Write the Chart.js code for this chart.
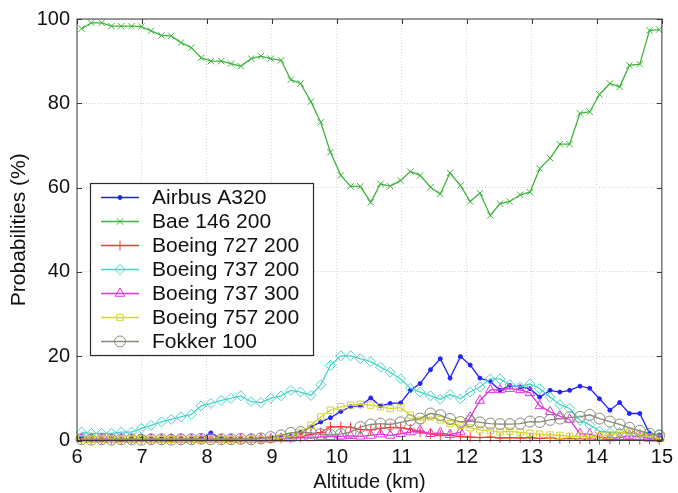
<!DOCTYPE html>
<html>
<head>
<meta charset="utf-8">
<script src="https://cdn.jsdelivr.net/npm/chart.js@4/dist/chart.umd.min.js"></script>
<style>
  html, body { margin: 0; padding: 0; background: #fff; }
  canvas { display: block; }
</style>
</head>
<body>
<canvas id="chart" width="678" height="493"></canvas>
<script>
"use strict";

/* ── Data ──────────────────────────────────────────────── */
const ALTITUDE = [
  6.07, 6.22, 6.38, 6.53, 6.68, 6.84, 6.99, 7.14, 7.30, 7.45,
  7.60, 7.76, 7.91, 8.06, 8.22, 8.37, 8.52, 8.68, 8.83, 8.98,
  9.14, 9.29, 9.44, 9.60, 9.75, 9.90, 10.06, 10.21, 10.36, 10.52,
  10.67, 10.82, 10.98, 11.13, 11.28, 11.44, 11.59, 11.74, 11.90, 12.05,
  12.20, 12.36, 12.51, 12.66, 12.82, 12.97, 13.12, 13.28, 13.43, 13.58,
  13.74, 13.89, 14.04, 14.20, 14.35, 14.50, 14.66, 14.81, 14.96,
];

const AIRBUS_A320 = [
  0.6, 0.3, 0.3, 0.3, 0.2, 0.3, 0.3, 0.3, 0.3, 0.3,
  0.3, 0.3, 0.5, 1.8, 0.4, 0.3, 0.3, 0.3, 0.3, 0.4,
  0.6, 1.0, 1.9, 3.2, 4.4, 5.4, 6.9, 8.0, 8.2, 10.1,
  8.2, 8.8, 8.9, 11.9, 13.5, 16.8, 19.4, 14.8, 19.9, 17.9,
  14.8, 14.0, 11.9, 13.1, 12.7, 12.3, 10.3, 11.9, 11.5, 11.9,
  12.9, 12.4, 9.9, 7.2, 9.0, 6.4, 6.4, 1.7, 1.3,
];

const BAE_146_200 = [
  97.7, 99.1, 99.1, 98.3, 98.3, 98.3, 98.2, 97.2, 96.1, 96.0,
  94.4, 93.2, 90.8, 90.0, 90.0, 89.4, 88.8, 90.6, 91.2, 90.6,
  90.2, 85.6, 84.7, 80.4, 75.5, 68.4, 62.9, 60.3, 60.3, 56.5,
  60.9, 60.3, 61.7, 63.8, 62.9, 60.1, 58.5, 63.5, 60.5, 56.7,
  58.7, 53.4, 56.2, 56.7, 58.3, 58.9, 64.5, 67.0, 70.3, 70.3,
  77.6, 78.0, 82.1, 84.7, 83.9, 89.0, 89.3, 97.3, 97.5,
];

const BOEING_727_200 = [
  0.4, 0.3, 0.3, 0.3, 0.3, 0.4, 0.3, 0.3, 0.3, 0.3,
  0.4, 0.3, 0.3, 0.5, 0.3, 0.3, 0.3, 0.4, 0.3, 0.4,
  0.5, 0.6, 0.8, 1.5, 1.9, 3.2, 3.3, 3.1, 2.6, 2.5,
  2.9, 3.1, 3.0, 2.7, 2.0, 1.6, 1.3, 1.2, 0.9, 0.8,
  0.7, 0.8, 0.6, 0.7, 0.6, 0.7, 0.5, 0.6, 0.4, 0.5,
  0.3, 0.3, 0.2, 0.3, 0.2, 0.2, 0.2, 0.2, 0.2,
];

const BOEING_737_200 = [
  2.0, 1.7, 1.7, 1.7, 2.0, 2.0, 2.9, 3.6, 4.4, 5.0,
  5.6, 6.2, 8.2, 8.8, 9.5, 10.0, 10.6, 9.2, 9.0, 10.0,
  10.6, 11.9, 11.5, 10.7, 13.2, 17.8, 20.1, 20.1, 19.4, 18.7,
  17.4, 16.2, 14.6, 12.4, 11.5, 10.6, 9.8, 10.9, 9.9, 11.5,
  12.7, 14.6, 14.6, 13.2, 12.7, 13.4, 12.3, 10.3, 8.5, 7.6,
  4.8, 3.7, 2.2, 1.9, 1.9, 1.9, 1.5, 1.3, 1.5,
];

const BOEING_737_300 = [
  0.5, 0.4, 0.4, 0.3, 0.4, 0.3, 0.4, 0.3, 0.3, 0.4,
  0.3, 0.3, 0.4, 0.3, 0.3, 0.4, 0.3, 0.3, 0.4, 0.3,
  0.5, 0.5, 0.7, 0.6, 0.8, 0.9, 1.0, 1.1, 1.0, 1.2,
  1.5, 1.2, 1.6, 2.0, 2.4, 1.6, 1.8, 1.4, 2.0, 5.5,
  9.5, 12.0, 12.0, 12.3, 12.0, 11.3, 8.2, 6.8, 5.8, 5.0,
  1.6, 1.5, 0.8, 0.6, 0.7, 1.2, 0.8, 0.5, 0.5,
];

const BOEING_757_200 = [
  0.4, 0.3, 0.3, 0.4, 0.3, 0.3, 0.4, 0.3, 0.3, 0.3,
  0.4, 0.3, 0.3, 0.4, 0.3, 0.3, 0.3, 0.4, 0.3, 0.4,
  0.6, 1.0, 1.9, 3.6, 5.6, 7.2, 8.0, 8.4, 8.6, 8.4,
  8.0, 7.6, 7.8, 6.0, 4.8, 5.6, 4.9, 4.0, 3.6, 3.0,
  2.5, 2.3, 2.0, 2.2, 1.9, 1.7, 1.5, 1.3, 1.2, 1.0,
  1.0, 0.9, 1.1, 1.3, 1.8, 2.0, 1.5, 0.8, 0.4,
];

const FOKKER_100 = [
  0.3, 0.2, 0.3, 0.2, 0.3, 0.3, 0.2, 0.3, 0.3, 0.2,
  0.3, 0.3, 0.4, 0.3, 0.3, 0.3, 0.4, 0.3, 0.5, 0.8,
  1.2, 1.8, 2.0, 1.8, 1.5, 1.3, 1.5, 2.0, 3.2, 3.8,
  4.0, 3.8, 4.3, 4.8, 5.2, 6.4, 6.0, 5.1, 4.4, 4.6,
  4.3, 4.0, 3.9, 3.9, 4.0, 4.5, 4.4, 4.9, 5.2, 5.5,
  5.6, 6.1, 5.2, 4.5, 3.8, 3.0, 2.3, 1.6, 1.2,
];

const X_TICKS = [6, 7, 8, 9, 10, 11, 12, 13, 14, 15];
const Y_TICKS = [0, 20, 40, 60, 80, 100];

/* ── Series styling ────────────────────────────────────── */
const SERIES = [
  { label: 'Airbus A320',    data: AIRBUS_A320,    color: '#2222ff', style: 'circle',   r: 2,   fill: '#2222ff' },
  { label: 'Bae 146 200',    data: BAE_146_200,    color: '#3cb43c', style: 'crossRot', r: 4.5, fill: 'transparent' },
  { label: 'Boeing 727 200', data: BOEING_727_200, color: '#ff3535', style: 'cross',    r: 5,   fill: 'transparent' },
  { label: 'Boeing 737 200', data: BOEING_737_200, color: '#48d4c8', style: 'rectRot',  r: 5,   fill: 'transparent' },
  { label: 'Boeing 737 300', data: BOEING_737_300, color: '#e034e0', style: 'triangle', r: 5.5, fill: 'transparent' },
  { label: 'Boeing 757 200', data: BOEING_757_200, color: '#d6d630', style: 'rect',     r: 4.5, fill: 'transparent' },
  { label: 'Fokker 100',     data: FOKKER_100,     color: '#8a8a7c', style: 'circle',   r: 5.5, fill: 'transparent' },
];

const FONT = "'Liberation Sans', Arial, Helvetica, sans-serif";

/* ── Plugins ───────────────────────────────────────────── */
/** Box frame with inward tick marks on all four sides. */
const frameTicks = {
  id: 'frameTicks',
  afterDatasetsDraw(chart) {
    const { ctx, chartArea: a, scales: { x, y } } = chart;
    const len = 5;
    ctx.save();
    ctx.strokeStyle = '#3a3a3a';
    ctx.lineWidth = 1;
    ctx.strokeRect(a.left, a.top, a.right - a.left, a.bottom - a.top);
    ctx.beginPath();
    X_TICKS.forEach(v => {
      const px = Math.round(x.getPixelForValue(v)) + 0.5;
      ctx.moveTo(px, a.bottom); ctx.lineTo(px, a.bottom - len);
      ctx.moveTo(px, a.top);    ctx.lineTo(px, a.top + len);
    });
    Y_TICKS.forEach(v => {
      const py = Math.round(y.getPixelForValue(v)) + 0.5;
      ctx.moveTo(a.left, py);  ctx.lineTo(a.left + len, py);
      ctx.moveTo(a.right, py); ctx.lineTo(a.right - len, py);
    });
    ctx.stroke();
    ctx.restore();
  },
};

/** MATLAB-like legend box in the upper-left part of the plot. */
const boxLegend = {
  id: 'boxLegend',
  afterDraw(chart) {
    const { ctx } = chart;
    const box = { x: 90, y: 183, w: 223, h: 172 };
    const rowY0 = 197.5, rowStep = 24;
    ctx.save();
    ctx.fillStyle = '#fff';
    ctx.fillRect(box.x, box.y, box.w, box.h);
    ctx.strokeStyle = '#2a2a2a';
    ctx.lineWidth = 1.2;
    ctx.strokeRect(box.x + 0.5, box.y + 0.5, box.w, box.h);

    SERIES.forEach((s, i) => {
      const cy = rowY0 + i * rowStep;
      ctx.setLineDash([]);
      ctx.strokeStyle = s.color;
      ctx.lineWidth = 1.4;
      ctx.beginPath();
      ctx.moveTo(101, cy);
      ctx.lineTo(139, cy);
      ctx.stroke();

      ctx.strokeStyle = s.color;
      ctx.fillStyle = s.fill;
      ctx.lineWidth = 1;
      Chart.helpers.drawPoint(ctx, {
        pointStyle: s.style, radius: s.r, rotation: 0, borderWidth: 1,
      }, 120, cy);

      ctx.fillStyle = '#111';
      ctx.font = `21px ${FONT}`;
      ctx.textBaseline = 'middle';
      ctx.textAlign = 'left';
      ctx.fillText(s.label, 152, cy + 1);
    });
    ctx.restore();
  },
};

/* ── Chart ─────────────────────────────────────────────── */
Chart.defaults.font.family = FONT;
Chart.defaults.color = '#111';

new Chart(document.getElementById('chart'), {
  type: 'line',
  data: {
    datasets: SERIES.map((s, i) => ({
      label: s.label,
      data: ALTITUDE.map((a, k) => ({ x: a, y: s.data[k] })),
      borderColor: s.color,
      borderWidth: 1.3,
      pointStyle: s.style,
      pointRadius: s.r,
      pointBorderWidth: 1,
      pointBorderColor: s.color,
      pointBackgroundColor: s.fill,
      tension: 0,
      clip: false,
      order: SERIES.length - i,
    })),
  },
  options: {
    responsive: false,
    animation: false,
    events: [],
    layout: { padding: { top: 16, right: 13, left: 0, bottom: 0 } },
    plugins: { legend: { display: false }, tooltip: { enabled: false } },
    scales: {
      x: {
        type: 'linear',
        min: 6, max: 15,
        afterBuildTicks: s => { s.ticks = X_TICKS.map(v => ({ value: v })); },
        afterFit: s => { s.height = 52.5; },
        ticks: { font: { size: 20 }, padding: 5, color: '#111' },
        grid: { color: '#d2d2d2', lineWidth: 1, drawTicks: false },
        border: { display: false, dash: [1, 2] },
        title: {
          display: true, text: 'Altitude (km)',
          font: { size: 20, lineHeight: 1.1 }, padding: 0, color: '#111',
        },
      },
      y: {
        min: 0, max: 100,
        afterBuildTicks: s => { s.ticks = Y_TICKS.map(v => ({ value: v })); },
        afterFit: s => { s.width = 77; },
        ticks: { font: { size: 20 }, padding: 7, color: '#111' },
        grid: { color: '#d2d2d2', lineWidth: 1, drawTicks: false },
        border: { display: false, dash: [1, 2] },
        title: {
          display: true, text: 'Probabilities (%)',
          font: { size: 21, lineHeight: 1.2 }, padding: { top: 7, bottom: 0 }, color: '#111',
        },
      },
    },
  },
  plugins: [frameTicks, boxLegend],
});
</script>
</body>
</html>
